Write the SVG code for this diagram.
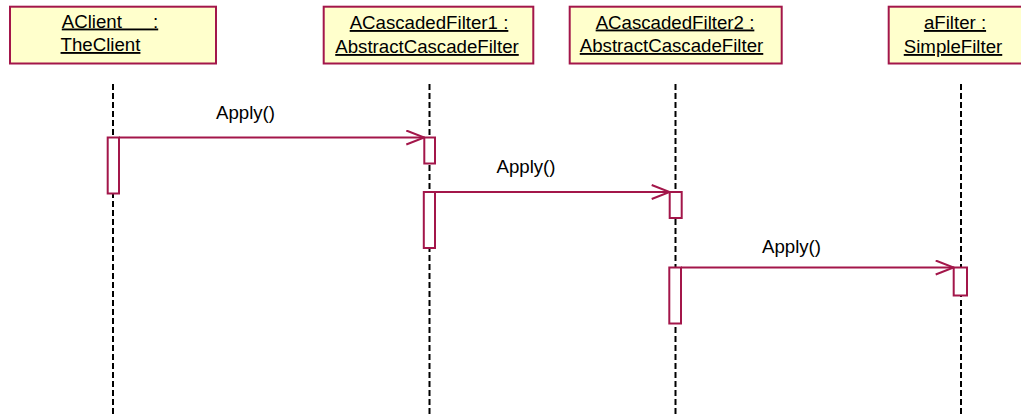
<svg xmlns="http://www.w3.org/2000/svg" width="1021" height="417" viewBox="0 0 1021 417">
  <style>
    .obj { fill: #FFFFCC; stroke: #A3164A; stroke-width: 2; }
    .name { font-family: "Liberation Sans", Arial, sans-serif; font-size: 18.67px; fill: #000; text-decoration: underline; text-decoration-thickness: 2px; text-anchor: middle; }
    .life { stroke: #000; stroke-width: 2; stroke-dasharray: 6 3; fill: none; }
    .act { fill: #FFFFFF; stroke: #A3164A; stroke-width: 2; }
    .msg { stroke: #A3164A; stroke-width: 2; fill: none; }
    .lbl { font-family: "Liberation Sans", Arial, sans-serif; font-size: 18.67px; fill: #000; text-anchor: middle; }
  </style>
  <defs>
    <marker id="open" viewBox="-1 -8 20 16" refX="18" refY="0" markerWidth="20" markerHeight="16" markerUnits="userSpaceOnUse" orient="auto">
      <path d="M0,-7 L18,0 L0,7" fill="none" stroke="#A3164A" stroke-width="2"/>
    </marker>
  </defs>
  <rect width="1021" height="417" fill="#FFFFFF"/>

  <!-- lifelines -->
  <g id="lifelines">
    <line class="life" x1="113" y1="84" x2="113" y2="417"/>
    <line class="life" x1="429.5" y1="84" x2="429.5" y2="417"/>
    <line class="life" x1="675.5" y1="84" x2="675.5" y2="417"/>
    <line class="life" x1="961" y1="84" x2="961" y2="417"/>
  </g>

  <!-- object heads -->
  <g id="aclient">
    <rect class="obj" x="10" y="6.7" width="206" height="56.8"/>
    <text class="name" x="110" y="27.5" xml:space="preserve">AClient      :</text>
    <text class="name" x="100.5" y="51">TheClient</text>
  </g>
  <g id="acascadedfilter1">
    <rect class="obj" x="323.7" y="6.7" width="209.6" height="56.8"/>
    <text class="name" x="429" y="29">ACascadedFilter1 :</text>
    <text class="name" x="427" y="53">AbstractCascadeFilter</text>
  </g>
  <g id="acascadedfilter2">
    <rect class="obj" x="569.7" y="6.7" width="212" height="56.8"/>
    <text class="name" x="675" y="28.5">ACascadedFilter2 :</text>
    <text class="name" x="671.5" y="52">AbstractCascadeFilter</text>
  </g>
  <g id="afilter">
    <rect class="obj" x="888.7" y="6.7" width="140" height="56.8"/>
    <text class="name" x="955" y="29">aFilter :</text>
    <text class="name" x="953" y="53">SimpleFilter</text>
  </g>

  <!-- activation bars -->
  <g id="activations">
    <rect class="act" x="107.7" y="137.5" width="11.3" height="56"/>
    <rect class="act" x="424.3" y="137.5" width="10.7" height="26"/>
    <rect class="act" x="423.8" y="192" width="11.2" height="56"/>
    <rect class="act" x="669.7" y="192" width="12" height="26"/>
    <rect class="act" x="669.3" y="267.5" width="11.7" height="56"/>
    <rect class="act" x="953.7" y="267.5" width="13.3" height="28"/>
  </g>

  <!-- messages -->
  <g id="connectors">
    <line class="msg" x1="119" y1="137.5" x2="424.3" y2="137.5" marker-end="url(#open)"/>
    <line class="msg" x1="435" y1="192" x2="669.7" y2="192" marker-end="url(#open)"/>
    <line class="msg" x1="681" y1="267.5" x2="953.7" y2="267.5" marker-end="url(#open)"/>
    <text class="lbl" x="245.5" y="119">Apply()</text>
    <text class="lbl" x="526" y="173">Apply()</text>
    <text class="lbl" x="791.5" y="252.5">Apply()</text>
  </g>
</svg>
